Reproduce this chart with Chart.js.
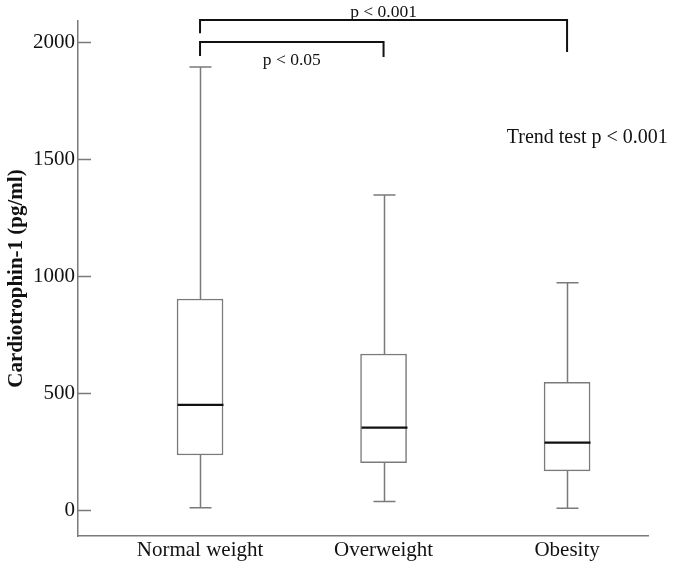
<!DOCTYPE html>
<html>
<head>
<meta charset="utf-8">
<script src="https://cdn.jsdelivr.net/npm/chart.js@4/dist/chart.umd.min.js"></script>
<style>
  html, body { margin: 0; padding: 0; background: #fff; }
  #wrap { width: 675px; height: 568px; }
</style>
</head>
<body>
<div id="wrap"><canvas id="boxChart"></canvas></div>
<script>
// data
const groups = ["Normal weight", "Overweight", "Obesity"];
const whiskerLow = [10, 36, 8];
const q1 = [235, 202, 167];
const median = [449, 352, 288];
const q3 = [902, 667, 546];
const whiskerHigh = [1893, 1346, 971];
const yTicks = [0, 500, 1000, 1500, 2000];

// significance brackets: from group, to group, bar level, left/right drop ends
const brackets = [
  { from: 0, to: 2, level: 2094, dropL: 2038, dropR: 1957, label: "p < 0.001", labelX: 1.0, labelY: 2125 },
  { from: 0, to: 1, level: 2000, dropL: 1940, dropR: 1936, label: "p < 0.05", labelX: 0.5, labelY: 1922 }
];
const trendText = "Trend test p < 0.001";

const serif = "'Liberation Serif', 'Times New Roman', serif";
const gray = "#7a7a7a";

// whiskers, medians, inward ticks, brackets and text
const boxExtras = {
  id: "boxExtras",
  afterDatasetsDraw(chart) {
    const ctx = chart.ctx;
    const x = chart.scales.x;
    const y = chart.scales.y;
    const half = 23;
    const cap = 11;
    ctx.save();
    ctx.lineCap = "butt";
    for (let i = 0; i < groups.length; i++) {
      const cx = Math.round(x.getPixelForValue(i)) + 0.5;
      ctx.strokeStyle = gray;
      ctx.lineWidth = 1.5;
      ctx.beginPath();
      ctx.moveTo(cx, y.getPixelForValue(q3[i]));
      ctx.lineTo(cx, y.getPixelForValue(whiskerHigh[i]));
      ctx.moveTo(cx, y.getPixelForValue(q1[i]));
      ctx.lineTo(cx, y.getPixelForValue(whiskerLow[i]));
      ctx.moveTo(cx - cap, y.getPixelForValue(whiskerHigh[i]));
      ctx.lineTo(cx + cap, y.getPixelForValue(whiskerHigh[i]));
      ctx.moveTo(cx - cap, y.getPixelForValue(whiskerLow[i]));
      ctx.lineTo(cx + cap, y.getPixelForValue(whiskerLow[i]));
      ctx.stroke();
      ctx.strokeStyle = "#111";
      ctx.lineWidth = 2.2;
      ctx.beginPath();
      ctx.moveTo(cx - half, y.getPixelForValue(median[i]));
      ctx.lineTo(cx + half, y.getPixelForValue(median[i]));
      ctx.stroke();
    }
    ctx.restore();
  },
  afterDraw(chart) {
    const ctx = chart.ctx;
    const x = chart.scales.x;
    const y = chart.scales.y;
    const left = chart.chartArea.left;
    ctx.save();
    // inward tick marks
    ctx.strokeStyle = gray;
    ctx.lineWidth = 1.5;
    ctx.beginPath();
    yTicks.forEach(v => {
      const py = Math.round(y.getPixelForValue(v)) + 0.5;
      ctx.moveTo(left, py);
      ctx.lineTo(left + 13, py);
    });
    ctx.stroke();
    // brackets
    ctx.strokeStyle = "#111";
    ctx.lineWidth = 2;
    ctx.fillStyle = "#111";
    ctx.textAlign = "center";
    ctx.textBaseline = "middle";
    brackets.forEach(b => {
      const x1 = x.getPixelForValue(b.from);
      const x2 = x.getPixelForValue(b.to);
      const py = y.getPixelForValue(b.level);
      ctx.beginPath();
      ctx.moveTo(x1, y.getPixelForValue(b.dropL));
      ctx.lineTo(x1, py);
      ctx.lineTo(x2, py);
      ctx.lineTo(x2, y.getPixelForValue(b.dropR));
      ctx.stroke();
      ctx.font = "17.5px " + serif;
      ctx.fillText(b.label, x.getPixelForValue(b.labelX), y.getPixelForValue(b.labelY));
    });
    ctx.font = "20px " + serif;
    ctx.fillText(trendText, x.getPixelForValue(2.11), y.getPixelForValue(1590));
    ctx.restore();
  }
};

new Chart("boxChart", {
  type: "bar",
  data: {
    datasets: [
      {
        data: groups.map((g, i) => ({ x: i, y: [q1[i], q3[i]] })),
        backgroundColor: "#fff",
        borderColor: gray,
        borderWidth: 1.5,
        borderSkipped: false,
        barThickness: 46
      }
    ]
  },
  options: {
    responsive: true,
    maintainAspectRatio: false,
    animation: false,
    layout: { padding: { top: 21, right: 27, left: 0, bottom: 0 } },
    plugins: {
      legend: { display: false },
      tooltip: { enabled: false }
    },
    scales: {
      x: {
        type: "linear",
        offset: false,
        min: -0.665,
        max: 2.441,
        afterBuildTicks: axis => { axis.ticks = groups.map((g, i) => ({ value: i })); },
        afterFit: axis => { axis.height = 32; },
        grid: { display: false, drawTicks: false },
        border: { display: true, color: gray, width: 1.5 },
        ticks: {
          callback: v => groups[v],
          color: "#111",
          padding: 2,
          maxRotation: 0,
          font: { family: serif, size: 21 }
        }
      },
      y: {
        min: -111,
        max: 2090,
        afterBuildTicks: axis => { axis.ticks = yTicks.map(v => ({ value: v })); },
        afterFit: axis => { axis.width = 78; },
        grid: { display: false, drawTicks: false },
        border: { display: true, color: gray, width: 1.5 },
        ticks: {
          callback: v => String(v),
          color: "#111",
          padding: 3,
          font: { family: serif, size: 21 }
        },
        title: {
          display: true,
          text: "Cardiotrophin-1 (pg/ml)",
          color: "#111",
          padding: { top: 4, bottom: 0 },
          font: { family: serif, size: 21, weight: "bold" }
        }
      }
    }
  },
  plugins: [boxExtras]
});
</script>
</body>
</html>
